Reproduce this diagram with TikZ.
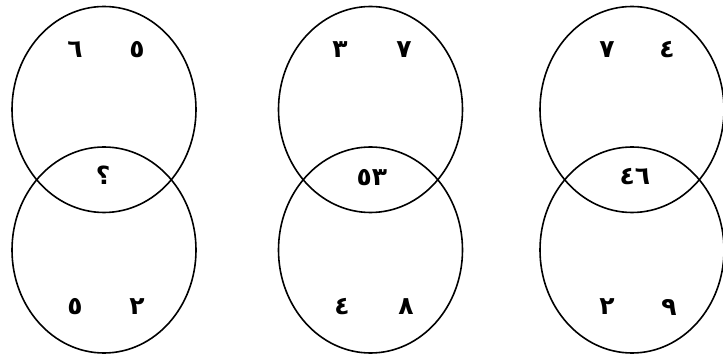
\documentclass[tikz,border=0pt]{standalone}
\usepackage{fontspec}
\newfontfamily\arabicfont[Script=Arabic]{DejaVu Sans}
\usetikzlibrary{shapes.geometric}
\tikzset{
  venn/.style={ellipse, draw=black, line width=1.6pt, minimum width=184pt, minimum height=206pt, inner sep=0pt},
  digit/.style={font=\arabicfont\bfseries\fontsize{25}{25}\selectfont, inner sep=0pt, anchor=center}
}
\begin{document}
\begin{tikzpicture}[x=1pt,y=-1pt]
\useasboundingbox (0,0) rectangle (723,355);
% left pair
\node[venn] (LT) at (104,109.5) {};
\node[venn] (LB) at (104,250) {};
\node[digit] (l1) at (75,50) {٦};
\node[digit] (l2) at (137,50) {٥};
\node[digit] (l3) at (103,175) {؟};
\node[digit] (l4) at (75,307) {٥};
\node[digit] (l5) at (137,307) {٢};
% middle pair
\node[venn] (MT) at (370.5,109.5) {};
\node[venn] (MB) at (370.5,250) {};
\node[digit] (m1) at (340,50) {٣};
\node[digit] (m2) at (404,50) {٧};
\node[digit] (m3) at (372,178) {٥٣};
\node[digit] (m4) at (342,307) {٤};
\node[digit] (m5) at (406,307) {٨};
% right pair
\node[venn] (RT) at (632,109.5) {};
\node[venn] (RB) at (632,250) {};
\node[digit] (r1) at (607,50) {٧};
\node[digit] (r2) at (667,50) {٤};
\node[digit] (r3) at (635,177) {٤٦};
\node[digit] (r4) at (607,307) {٢};
\node[digit] (r5) at (669,307) {٩};
\end{tikzpicture}
\end{document}
